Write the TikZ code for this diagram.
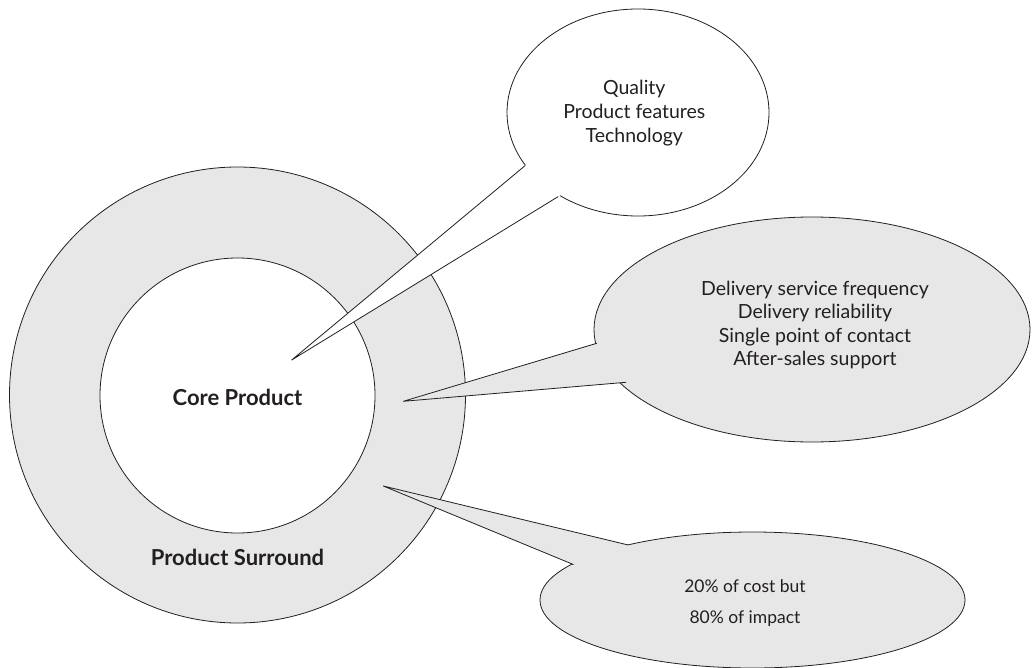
\documentclass[tikz,border=0pt]{standalone}
\usepackage{fontspec}
\setmainfont{Lato}
\usetikzlibrary{shapes.geometric,calc}
\definecolor{ringgrey}{RGB}{230,231,230}
\definecolor{inkc}{RGB}{35,31,32}
\begin{document}
\begin{tikzpicture}[x=1pt,y=-1pt,
  outline/.style={draw=inkc,line width=0.8pt},
  greyfill/.style={fill=ringgrey},
  bubtext/.style={align=center,font=\fontsize{19.5}{24}\selectfont,text=inkc,inner sep=0pt},
  boldlabel/.style={font=\fontsize{22}{26}\selectfont\bfseries,text=inkc,inner sep=0pt},
  taillines/.style={draw=inkc,line width=0.8pt,line cap=round,line join=round}]
\useasboundingbox (0,0) rectangle (1032,668);
% circles
\node[circle,outline,greyfill,minimum size=456pt,inner sep=0pt] (outer) at (237.5,395) {};
\node[circle,outline,fill=white,minimum size=275pt,inner sep=0pt] (inner) at (237.5,395.5) {};
\node[boldlabel] (core) at (237.5,397) {Core Product};
\node[boldlabel] (surround) at (237.5,557) {Product Surround};
% bubble 3
\node[ellipse,outline,greyfill,minimum width=425pt,minimum height=136pt,inner sep=0pt] (b3) at (752.5,600) {};
\coordinate (t3) at (383.3,486);
\coordinate (a3) at (628.3,545);
\coordinate (c3) at (573.3,564.5);
\fill[ringgrey] (t3) -- ($(a3)!-6pt!(t3)$) -- ($(c3)!-6pt!(t3)$) -- cycle;
\draw[taillines] (a3) -- (t3) -- (c3);
\node[bubtext,font=\fontsize{17.5}{31}\selectfont] (b3text) at (745,603.5) {20\% of cost but\\80\% of impact};
% bubble 2
\node[ellipse,outline,greyfill,minimum width=436pt,minimum height=225pt,inner sep=0pt] (b2) at (812,329.5) {};
\coordinate (t2) at (403.3,401.3);
\coordinate (a2) at (596.7,343.3);
\coordinate (c2) at (626,382.3);
\fill[ringgrey] (t2) -- ($(a2)!-6pt!(t2)$) -- ($(c2)!-6pt!(t2)$) -- cycle;
\draw[taillines] (a2) -- (t2) -- (c2);
\node[bubtext,font=\fontsize{19.5}{23.3}\selectfont] (b2text) at (815,325) {Delivery service frequency\\Delivery reliability\\Single point of contact\\After-sales support};
% bubble 1
\node[ellipse,outline,fill=white,minimum width=262pt,minimum height=207pt,inner sep=0pt] (b1) at (638,112.5) {};
\coordinate (t1) at (291.7,360);
\coordinate (a1) at (525,165.7);
\coordinate (c1) at (558,196.7);
\fill[white] (t1) -- ($(a1)!-6pt!(t1)$) -- ($(c1)!-6pt!(t1)$) -- cycle;
\draw[taillines] (a1) -- (t1) -- (c1);
\node[bubtext] (b1text) at (634.3,112.7) {Quality\\Product features\\Technology};
\end{tikzpicture}
\end{document}
